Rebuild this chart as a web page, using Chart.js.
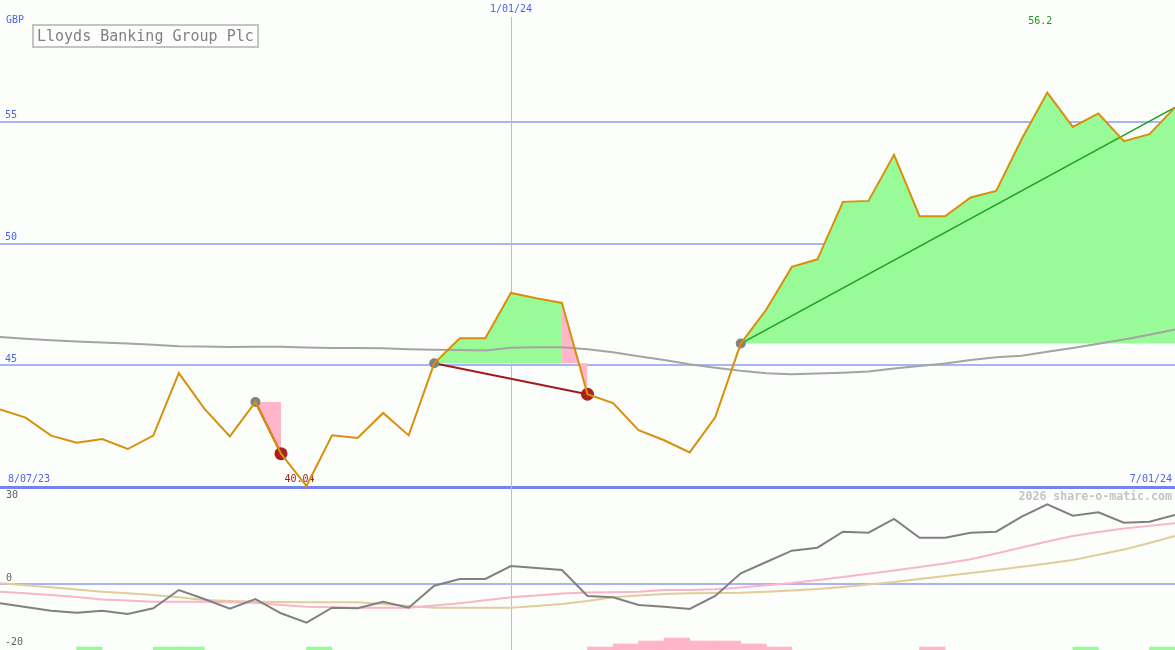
<!DOCTYPE html>
<html>
<head>
<meta charset="utf-8">
<title>Lloyds Banking Group Plc</title>
<script src="https://cdn.jsdelivr.net/npm/chart.js@4.4.1/dist/chart.umd.min.js"></script>
<style>
  body { margin: 0; background: #fcfefc; }
  #wrap { position: relative; width: 1175px; height: 650px; overflow: hidden; font-family: 'DejaVu Sans Mono', monospace; }
  canvas { position: absolute; left: 0; }
  #top { top: 0; }
  #low { top: 487px; }
  .lbl { position: absolute; font-size: 10px; line-height: 12px; white-space: nowrap; }
  .blue { color: #5060f0; }
  .grey { color: #606060; }
  #title { position: absolute; left: 32px; top: 24px; width: 227px; height: 24px; box-sizing: border-box;
           border: 2px solid #c4c4c4; color: #808080; font-size: 15px; line-height: 20px; padding-left: 3px; white-space: nowrap; }
  #mark { position: absolute; right: 3px; top: 490px; font-size: 11.6px; line-height: 12px; font-weight: bold; color: #c4c4c4; }
</style>
</head>
<body>
<div id="wrap">
  <canvas id="top" width="1175" height="490"></canvas>
  <canvas id="low" width="1175" height="163"></canvas>
  <div class="lbl blue" style="left:6px;top:14px">GBP</div>
  <div id="title">Lloyds Banking Group Plc</div>
  <div class="lbl blue" style="left:511px;top:3px;transform:translateX(-50%)">1/01/24</div>
  <div class="lbl blue" style="left:8px;top:473px">8/07/23</div>
  <div class="lbl blue" style="right:3px;top:473px">7/01/24</div>
  <div id="mark">2026 share-o-matic.com</div>
  <div class="lbl grey" style="left:6px;top:489px">30</div>
  <div class="lbl grey" style="left:5px;top:636px">-20</div>
</div>
<script>
// weekly points, 0 = first week shown
var weeks = [0, 1, 2, 3, 4, 5, 6, 7, 8, 9, 10, 11, 12, 13, 14, 15, 16, 17, 18, 19, 20, 21, 22, 23,
             24, 25, 26, 27, 28, 29, 30, 31, 32, 33, 34, 35, 36, 37, 38, 39, 40, 41, 42, 43, 44, 45, 46];

// share price (pence)
var price = [43.18, 42.85, 42.11, 41.82, 41.97, 41.56, 42.11, 44.68, 43.22, 42.08,
             43.49, 41.37, 40.04, 42.12, 42.01, 43.04, 42.12, 45.08, 46.11, 46.11,
             47.97, 47.75, 47.56, 43.81, 43.45, 42.33, 41.92, 41.42, 42.86, 45.89,
             47.29, 49.04, 49.35, 51.71, 51.75, 53.64, 51.12, 51.12, 51.89, 52.16,
             54.29, 56.2, 54.79, 55.34, 54.20, 54.49, 55.59];

// long moving average (grey)
var avg = [46.16, 46.09, 46.03, 45.98, 45.93, 45.89, 45.84, 45.78, 45.77, 45.75,
           45.76, 45.76, 45.73, 45.71, 45.71, 45.70, 45.66, 45.64, 45.63, 45.61,
           45.72, 45.74, 45.74, 45.66, 45.53, 45.37, 45.22, 45.04, 44.90, 44.77,
           44.67, 44.63, 44.66, 44.69, 44.74, 44.87, 44.97, 45.07, 45.22, 45.33,
           45.39, 45.55, 45.71, 45.88, 46.06, 46.25, 46.47];

// lower panel
var momentum = [-5.85, -6.97, -8.09, -8.70, -8.09, -9.09, -7.36, -1.82, -4.55, -7.48,
                -4.55, -8.88, -11.73, -7.18, -7.36, -5.36, -7.18, -0.52, 1.52, 1.52,
                5.45, 4.85, 4.24, -3.64, -4.03, -6.36, -6.88, -7.58, -3.64, 3.24,
                6.67, 10.09, 11.00, 15.85, 15.55, 19.70, 14.03, 14.03, 15.55, 15.85,
                20.39, 24.15, 20.70, 21.73, 18.58, 18.88, 20.91];
var fastAvg = [-2.33, -2.82, -3.33, -3.94, -4.70, -5.00, -5.36, -5.36, -5.36, -5.52,
               -5.70, -6.36, -6.88, -7.03, -7.18, -7.18, -7.18, -6.52, -5.85, -4.94,
               -4.03, -3.45, -2.88, -2.61, -2.48, -2.36, -1.82, -1.82, -1.61, -1.06,
               -0.39, 0.33, 1.24, 2.12, 3.12, 4.12, 5.15, 6.18, 7.52, 9.24,
               11.06, 12.88, 14.55, 15.76, 16.79, 17.61, 18.39];
var slowAvg = [0.21, -0.39, -1.00, -1.67, -2.33, -2.82, -3.33, -4.03, -4.85, -5.15,
               -5.36, -5.45, -5.55, -5.55, -5.55, -6.06, -6.67, -7.18, -7.18, -7.18,
               -7.18, -6.67, -6.06, -5.15, -4.03, -3.48, -3.03, -2.79, -2.70, -2.64,
               -2.33, -2.00, -1.55, -0.88, -0.18, 0.61, 1.48, 2.39, 3.30, 4.21,
               5.21, 6.24, 7.27, 8.88, 10.48, 12.45, 14.55];

// signal blocks along the bottom
var barWeek = [3.5, 6.5, 7.5, 12.5, 23.5, 24.5, 25.5, 26.5, 27.5, 28.5, 29.5, 30.5, 36.5, 42.5, 45.5];
var barSize = [1, 1, 1, 1, 1, 2, 3, 4, 3, 3, 2, 1, 1, 1, 1];
var barUp = [true, true, true, true, false, false, false, false, false, false, false, false, false, true, true];

// trades: buy week -> sell week (last one still open)
var buyWeek = [10, 17, 29];
var sellWeek = [11, 23];
var openEnd = 46;

// shaded zones: from, to, baseline week, gain?
var zoneFrom = [10, 17, 22, 29];
var zoneTo = [11, 22, 23, 46];
var zoneBase = [10, 17, 17, 29];
var zoneUp = [false, true, false, true];

var yTicks = [40, 45, 50, 55];
var lowTicks = [0];
var lowLabel = 12, highLabel = 41;

var FONT = "'DejaVu Sans Mono', monospace";
var GREEN = '#98fb98', PINK = '#ffb6c8';

function pts(arr) { return arr.map(function(v, i) { return { x: weeks[i], y: v }; }); }
function pick(idx) { return idx.map(function(i) { return { x: weeks[i], y: price[i] }; }); }
function span(a, b) {
  var out = [];
  for (var i = a; i <= b; i++) out.push({ x: weeks[i], y: price[i] });
  return out;
}
// y axis sits inside the plot: no width, no label padding
function flatAxis(s) {
  s.width = 0;
  s.paddingTop = 0;
  s.paddingBottom = 0;
}

// vertical year line (drawn under the data)
var vline = {
  id: 'vline',
  beforeDatasetsDraw: function(chart, args, opts) {
    var x = Math.round(chart.scales.x.getPixelForValue(opts.at)) + 0.5;
    var ctx = chart.ctx;
    ctx.save();
    ctx.strokeStyle = '#b2bae6';
    ctx.lineWidth = 1;
    ctx.beginPath();
    ctx.moveTo(x, chart.chartArea.top + opts.from);
    ctx.lineTo(x, chart.chartArea.bottom);
    ctx.stroke();
    ctx.restore();
  }
};

// min / max price labels
var extremes = {
  id: 'extremes',
  beforeDatasetsDraw: function(chart, args, opts) {
    if (!opts.show) return;
    var ctx = chart.ctx, xs = chart.scales.x, a = chart.chartArea;
    ctx.save();
    ctx.font = '10px ' + FONT;
    ctx.textAlign = 'center';
    ctx.textBaseline = 'middle';
    ctx.fillStyle = '#a01c1c';
    ctx.fillText(price[lowLabel].toFixed(2), xs.getPixelForValue(weeks[lowLabel]) - 7, a.bottom - 8);
    ctx.fillStyle = '#1e9a1e';
    ctx.fillText(String(price[highLabel]), xs.getPixelForValue(weeks[highLabel]) - 7, a.top + 21);
    ctx.restore();
  }
};

var datasets = [
  { data: pts(price), borderColor: '#d8900a', borderWidth: 2, pointRadius: 0, order: 0 },
  { data: pick(buyWeek), showLine: false, pointRadius: 5, pointBackgroundColor: '#808080', pointBorderWidth: 0, order: 1 },
  { data: pick(sellWeek), showLine: false, pointRadius: 6.5, pointBackgroundColor: '#a82020', pointBorderWidth: 0, order: 1 }
];
for (var t = 0; t < sellWeek.length; t++) {
  datasets.push({ data: pick([buyWeek[t], sellWeek[t]]), borderColor: '#a01c1c', borderWidth: 2, pointRadius: 0, order: 2 });
}
datasets.push({ data: pick([buyWeek[buyWeek.length - 1], openEnd]), borderColor: '#20a020', borderWidth: 1.6, pointRadius: 0, order: 2 });
datasets.push({ data: pts(avg), borderColor: '#a4a4a4', borderWidth: 2, pointRadius: 0, order: 3 });
for (var z = 0; z < zoneFrom.length; z++) {
  datasets.push({
    data: span(zoneFrom[z], zoneTo[z]),
    fill: { value: price[zoneBase[z]] },
    backgroundColor: zoneUp[z] ? GREEN : PINK,
    borderColor: 'rgba(0,0,0,0)',
    borderWidth: 0,
    pointRadius: 0,
    order: 4
  });
}

new Chart(document.getElementById('top'), {
  type: 'line',
  data: { datasets: datasets },
  plugins: [vline, extremes],
  options: {
    responsive: false,
    animation: false,
    events: [],
    layout: { autoPadding: false, padding: { left: 0, right: 0, top: 0, bottom: 3 } },
    plugins: {
      legend: { display: false },
      tooltip: { enabled: false },
      vline: { at: 20, from: 17 },
      extremes: { show: true }
    },
    scales: {
      x: { type: 'linear', min: 0, max: 46, display: false },
      y: {
        min: 40, max: 60,
        afterFit: flatAxis,
        afterBuildTicks: function(s) { s.ticks = yTicks.map(function(v) { return { value: v }; }); },
        border: { display: false },
        grid: {
          drawTicks: false,
          color: function(c) { return c.tick && c.tick.value === 40 ? '#7484ec' : '#a8b4f4'; },
          lineWidth: function(c) { return c.tick && c.tick.value === 40 ? 3 : 2; }
        },
        ticks: {
          mirror: true, padding: 5, labelOffset: -6, color: '#5060f0',
          font: { family: FONT, size: 10 },
          callback: function(v) { return v === 40 ? '' : String(v); }
        }
      }
    }
  }
});

var bars = barWeek.map(function(w, i) { return { x: w, y: barSize[i] }; });

new Chart(document.getElementById('low'), {
  type: 'line',
  data: {
    datasets: [
      { data: pts(momentum), borderColor: '#808080', borderWidth: 2, pointRadius: 0, order: 0 },
      { data: pts(fastAvg), borderColor: '#fbb4c8', borderWidth: 2, pointRadius: 0, order: 1 },
      { data: pts(slowAvg), borderColor: '#e2cc9c', borderWidth: 2, pointRadius: 0, order: 2 },
      { type: 'bar', data: bars, yAxisID: 'yb', order: 3,
        backgroundColor: barUp.map(function(u) { return u ? GREEN : PINK; }),
        barPercentage: 1, categoryPercentage: 1, borderWidth: 0 }
    ]
  },
  plugins: [vline],
  options: {
    responsive: false,
    animation: false,
    events: [],
    layout: { autoPadding: false, padding: 0 },
    plugins: { legend: { display: false }, tooltip: { enabled: false }, vline: { at: 20, from: 0 } },
    scales: {
      x: { type: 'linear', min: 0, max: 46, display: false, offset: false },
      y: {
        min: -20, max: 29.39,
        afterFit: flatAxis,
        afterBuildTicks: function(s) { s.ticks = lowTicks.map(function(v) { return { value: v }; }); },
        border: { display: false },
        grid: { drawTicks: false, color: '#a8b4f4', lineWidth: 2 },
        ticks: { mirror: true, padding: 6, labelOffset: -6, color: '#606060', font: { family: FONT, size: 10 } }
      },
      yb: { min: 0, max: 54.33, display: false }
    }
  }
});
</script>
</body>
</html>
